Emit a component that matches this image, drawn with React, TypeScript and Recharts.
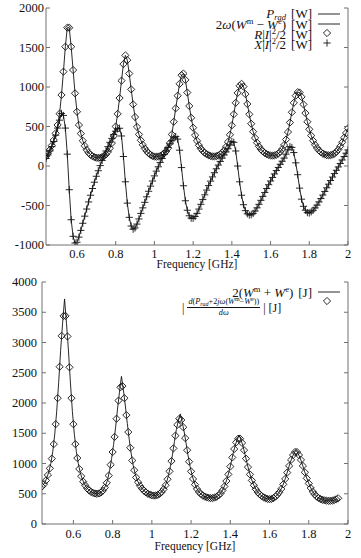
import React from 'react';
import { ComposedChart, Line, XAxis, YAxis } from 'recharts';

// frequency grid [GHz]
const freq = [
  0.44, 0.45, 0.46, 0.47, 0.48, 0.49, 0.5, 0.51, 0.52, 0.53,
  0.54, 0.55, 0.56, 0.57, 0.58, 0.59, 0.6, 0.61, 0.62, 0.63,
  0.64, 0.65, 0.66, 0.67, 0.68, 0.69, 0.7, 0.71, 0.72, 0.73,
  0.74, 0.75, 0.76, 0.77, 0.78, 0.79, 0.8, 0.81, 0.82, 0.83,
  0.84, 0.85, 0.86, 0.87, 0.88, 0.89, 0.9, 0.91, 0.92, 0.93,
  0.94, 0.95, 0.96, 0.97, 0.98, 0.99, 1.0, 1.01, 1.02, 1.03,
  1.04, 1.05, 1.06, 1.07, 1.08, 1.09, 1.1, 1.11, 1.12, 1.13,
  1.14, 1.15, 1.16, 1.17, 1.18, 1.19, 1.2, 1.21, 1.22, 1.23,
  1.24, 1.25, 1.26, 1.27, 1.28, 1.29, 1.3, 1.31, 1.32, 1.33,
  1.34, 1.35, 1.36, 1.37, 1.38, 1.39, 1.4, 1.41, 1.42, 1.43,
  1.44, 1.45, 1.46, 1.47, 1.48, 1.49, 1.5, 1.51, 1.52, 1.53,
  1.54, 1.55, 1.56, 1.57, 1.58, 1.59, 1.6, 1.61, 1.62, 1.63,
  1.64, 1.65, 1.66, 1.67, 1.68, 1.69, 1.7, 1.71, 1.72, 1.73,
  1.74, 1.75, 1.76, 1.77, 1.78, 1.79, 1.8, 1.81, 1.82, 1.83,
  1.84, 1.85, 1.86, 1.87, 1.88, 1.89, 1.9, 1.91, 1.92, 1.93,
  1.94, 1.95, 1.96, 1.97, 1.98, 1.99, 2.0,
];

// P_rad and R|I|^2/2 [W] (they sit on top of each other)
const radiatedPower = [
  120, 160, 205, 260, 329, 414, 519, 662, 899, 1194,
  1510, 1751, 1751, 1510, 1215, 920, 687, 519, 410, 320,
  255, 205, 168, 142, 124, 112, 105, 102, 104, 112,
  126, 148, 180, 225, 290, 380, 500, 660, 860, 1080,
  1290, 1400, 1340, 1170, 970, 780, 620, 495, 400, 325,
  268, 222, 188, 162, 142, 128, 120, 117, 120, 128,
  140, 158, 185, 225, 290, 400, 560, 730, 890, 1040,
  1150, 1170, 1090, 930, 760, 610, 485, 390, 318, 262,
  220, 190, 166, 149, 136, 127, 122, 121, 125, 133,
  147, 168, 198, 242, 305, 395, 515, 655, 800, 925,
  1015, 1040, 1005, 910, 785, 655, 535, 435, 355, 295,
  248, 212, 185, 165, 150, 140, 133, 131, 134, 142,
  157, 180, 215, 265, 335, 430, 550, 680, 800, 890,
  935, 930, 875, 780, 670, 560, 465, 385, 320, 268,
  228, 197, 174, 157, 145, 138, 135, 137, 144, 157,
  178, 208, 250, 300, 358, 418, 477,
];

// 2w(Wm - We) and X|I|^2/2 [W]
const reactivePower = [
  95, 140, 190, 245, 310, 390, 480, 580, 665, 640,
  480, 150, -300, -680, -890, -975, -965, -900, -815, -725,
  -635, -545, -455, -370, -285, -205, -130, -60, 5, 70,
  130, 190, 245, 300, 350, 400, 440, 470, 478, 380,
  120, -200, -470, -650, -760, -800, -785, -735, -670, -600,
  -530, -460, -390, -320, -255, -190, -125, -65, -10, 45,
  95, 145, 190, 235, 280, 320, 355, 372, 340, 200,
  -20, -250, -440, -560, -630, -660, -662, -640, -600, -545,
  -485, -425, -365, -305, -248, -192, -138, -85, -35, 12,
  58, 100, 140, 178, 218, 265, 308, 300, 190, 0,
  -200, -370, -490, -565, -605, -620, -618, -600, -570, -530,
  -485, -435, -385, -335, -285, -237, -190, -145, -100, -58,
  -18, 22, 60, 100, 150, 205, 244, 235, 170, 40,
  -110, -280, -420, -510, -560, -590, -595, -580, -560, -530,
  -495, -455, -412, -368, -322, -276, -230, -184, -140, -96,
  -54, -12, 32, 76, 120, 162, 203,
];

// 2(Wm + We) [J], sampled half way between the derivative points
const energyFreq = [
  0.445, 0.455, 0.465, 0.475, 0.485, 0.495, 0.505, 0.515, 0.525, 0.535,
  0.545, 0.555, 0.565, 0.575, 0.585, 0.595, 0.605, 0.615, 0.625, 0.635,
  0.645, 0.655, 0.665, 0.675, 0.685, 0.695, 0.705, 0.715, 0.725, 0.735,
  0.745, 0.755, 0.765, 0.775, 0.785, 0.795, 0.805, 0.815, 0.825, 0.835,
  0.845, 0.855, 0.865, 0.875, 0.885, 0.895, 0.905, 0.915, 0.925, 0.935,
  0.945, 0.955, 0.965, 0.975, 0.985, 0.995, 1.005, 1.015, 1.025, 1.035,
  1.045, 1.055, 1.065, 1.075, 1.085, 1.095, 1.105, 1.115, 1.125, 1.135,
  1.145, 1.155, 1.165, 1.175, 1.185, 1.195, 1.205, 1.215, 1.225, 1.235,
  1.245, 1.255, 1.265, 1.275, 1.285, 1.295, 1.305, 1.315, 1.325, 1.335,
  1.345, 1.355, 1.365, 1.375, 1.385, 1.395, 1.405, 1.415, 1.425, 1.435,
  1.445, 1.455, 1.465, 1.475, 1.485, 1.495, 1.505, 1.515, 1.525, 1.535,
  1.545, 1.555, 1.565, 1.575, 1.585, 1.595, 1.605, 1.615, 1.625, 1.635,
  1.645, 1.655, 1.665, 1.675, 1.685, 1.695, 1.705, 1.715, 1.725, 1.735,
  1.745, 1.755, 1.765, 1.775, 1.785, 1.795, 1.805, 1.815, 1.825, 1.835,
  1.845, 1.855, 1.865, 1.875, 1.885, 1.895, 1.905, 1.915, 1.925, 1.935,
  1.945,
];
const storedEnergy = [
  640, 690, 765, 865, 1000, 1200, 1485, 1865, 2340, 2870,
  3320, 3720, 3310, 2860, 2330, 1860, 1480, 1200, 1000, 850,
  745, 670, 615, 572, 542, 522, 510, 502, 502, 512,
  535, 575, 640, 740, 890, 1085, 1315, 1590, 1900, 2180,
  2440, 2220, 1950, 1660, 1390, 1155, 970, 830, 730, 660,
  608, 568, 536, 511, 492, 480, 472, 471, 477, 491,
  515, 552, 607, 690, 805, 955, 1145, 1360, 1560, 1710,
  1820, 1680, 1520, 1325, 1125, 950, 808, 698, 615, 555,
  512, 482, 461, 446, 436, 430, 429, 433, 443, 461,
  488, 530, 587, 665, 765, 885, 1025, 1175, 1300, 1395,
  1470, 1385, 1285, 1150, 1010, 880, 770, 680, 607, 550,
  507, 476, 451, 432, 420, 412, 411, 420, 440, 468,
  505, 552, 617, 700, 797, 905, 1010, 1100, 1170, 1220,
  1170, 1100, 1010, 907, 805, 712, 632, 565, 512, 472,
  442, 421, 406, 396, 389, 384, 383, 385, 391, 401,
  416,
];

// |d(P_rad + 2jw(Wm - We))/dw| [J]
const derivFreq = freq.slice(0, 152);
const derivEnergy = [
  620, 660, 720, 810, 920, 1080, 1320, 1650, 2080, 2600,
  3110, 3440, 3440, 3100, 2590, 2080, 1650, 1320, 1090, 910,
  790, 700, 640, 590, 555, 530, 515, 505, 500, 505,
  520, 550, 600, 680, 800, 980, 1190, 1440, 1740, 2040,
  2260, 2280, 2080, 1800, 1520, 1260, 1050, 890, 770, 690,
  630, 585, 550, 522, 500, 485, 475, 470, 472, 482,
  500, 530, 575, 640, 740, 870, 1040, 1250, 1460, 1640,
  1740, 1720, 1600, 1420, 1220, 1030, 870, 745, 650, 580,
  530, 495, 470, 452, 440, 432, 428, 430, 437, 450,
  472, 505, 555, 620, 710, 820, 950, 1100, 1240, 1350,
  1410, 1410, 1340, 1220, 1080, 940, 820, 720, 640, 575,
  525, 490, 462, 440, 425, 415, 410, 414, 428, 452,
  485, 525, 580, 655, 745, 850, 960, 1060, 1140, 1190,
  1190, 1140, 1060, 960, 855, 755, 670, 595, 535, 490,
  455, 430, 412, 400, 392, 386, 383, 383, 387, 395,
  408, 425,
];

const freqTicks = [0.6, 0.8, 1, 1.2, 1.4, 1.6, 1.8, 2];
const powerTicks = [-1000, -500, 0, 500, 1000, 1500, 2000];
const energyTicks = [0, 500, 1000, 1500, 2000, 2500, 3000, 3500, 4000];

const toRows = (xs: number[], ys: number[]) => xs.map((f, i) => ({ f, v: ys[i] }));

const powerRows = toRows(freq, radiatedPower);
const reactiveRows = toRows(freq, reactivePower);
const energyRows = toRows(energyFreq, storedEnergy);
const derivRows = toRows(derivFreq, derivEnergy);

const INK = '#111';
const FRAME = '#707070';
const SERIF = '"Liberation Serif", "DejaVu Serif", serif';
const TICK = 4;

type Box = { left: number; right: number; top: number; bottom: number };
// plot rectangles, in each chart's own coordinates
const TOP_BOX: Box = { left: 46, right: 348, top: 8, bottom: 245 };
const BOT_BOX: Box = { left: 42, right: 348, top: 14, bottom: 256 };

const Diamond = ({ cx, cy, r = 3.6 }: { cx?: number; cy?: number; r?: number }) =>
  cx == null || cy == null ? null : (
    <path
      d={`M${cx},${cy - r}L${cx + r},${cy}L${cx},${cy + r}L${cx - r},${cy}Z`}
      fill='none'
      stroke={INK}
      strokeWidth={0.9}
    />
  );

const Plus = ({ cx, cy, r = 3.6 }: { cx?: number; cy?: number; r?: number }) =>
  cx == null || cy == null ? null : (
    <path
      d={`M${cx - r},${cy}H${cx + r}M${cx},${cy - r}V${cy + r}`}
      fill='none'
      stroke={INK}
      strokeWidth={0.9}
    />
  );

const diamondDot = (p: any) => <Diamond key={`d${p.index}`} cx={p.cx} cy={p.cy} />;
const plusDot = (p: any) => <Plus key={`p${p.index}`} cx={p.cx} cy={p.cy} />;

// inward gnuplot-style ticks, optional label
const yTick = (box: Box, side: 'left' | 'right', labelRight?: number) => (p: any) => {
  const x0 = side === 'left' ? box.left : box.right;
  const x1 = side === 'left' ? x0 + TICK : x0 - TICK;
  return (
    <g>
      <line x1={x0} x2={x1} y1={p.y} y2={p.y} stroke={FRAME} />
      {labelRight !== undefined && (
        <text x={labelRight} y={p.y + 4} textAnchor='end' fontSize={12.5} fontFamily={SERIF} fill={INK}>
          {String(p.payload.value)}
        </text>
      )}
    </g>
  );
};

const xTick = (box: Box, side: 'top' | 'bottom', labelY?: number) => (p: any) => {
  const y0 = side === 'bottom' ? box.bottom : box.top;
  const y1 = side === 'bottom' ? y0 - TICK : y0 + TICK;
  return (
    <g>
      <line x1={p.x} x2={p.x} y1={y0} y2={y1} stroke={FRAME} />
      {labelY !== undefined && (
        <text x={p.x} y={labelY} textAnchor='middle' fontSize={12.5} fontFamily={SERIF} fill={INK}>
          {String(p.payload.value)}
        </text>
      )}
    </g>
  );
};

const axisLabel = (offset: number) => ({
  value: 'Frequency [GHz]',
  position: 'insideBottom' as const,
  offset,
  fontSize: 11.5,
  fontFamily: SERIF,
  fill: INK,
});

const PowerChart = () => (
  <ComposedChart width={361} height={278} margin={{ top: 8, right: 0, bottom: 0, left: 0 }}>
    <XAxis
      xAxisId='b'
      type='number'
      dataKey='f'
      domain={[0.44, 2]}
      ticks={freqTicks}
      interval={0}
      allowDataOverflow
      height={33}
      tickLine={false}
      tickSize={0}
      axisLine={{ stroke: FRAME }}
      tick={xTick(TOP_BOX, 'bottom', 258)}
      label={axisLabel(10)}
    />
    <XAxis
      xAxisId='t'
      orientation='top'
      type='number'
      domain={[0.44, 2]}
      ticks={freqTicks}
      interval={0}
      allowDataOverflow
      height={0}
      tickLine={false}
      tickSize={0}
      axisLine={{ stroke: FRAME }}
      tick={xTick(TOP_BOX, 'top')}
    />
    <YAxis
      yAxisId='l'
      type='number'
      domain={[-1000, 2000]}
      ticks={powerTicks}
      interval={0}
      allowDataOverflow
      width={46}
      tickLine={false}
      tickSize={0}
      axisLine={{ stroke: FRAME }}
      tick={yTick(TOP_BOX, 'left', 44)}
    />
    <YAxis
      yAxisId='r'
      orientation='right'
      type='number'
      domain={[-1000, 2000]}
      ticks={powerTicks}
      interval={0}
      allowDataOverflow
      width={13}
      tickLine={false}
      tickSize={0}
      axisLine={{ stroke: FRAME }}
      tick={yTick(TOP_BOX, 'right')}
    />
    <Line xAxisId='b' yAxisId='l' data={powerRows} dataKey='v' type='linear' stroke={INK} strokeWidth={0.9} dot={false} activeDot={false} isAnimationActive={false} />
    <Line xAxisId='b' yAxisId='l' data={reactiveRows} dataKey='v' type='linear' stroke={INK} strokeWidth={0.9} dot={false} activeDot={false} isAnimationActive={false} />
    <Line xAxisId='b' yAxisId='l' data={powerRows} dataKey='v' stroke='none' dot={diamondDot} activeDot={false} isAnimationActive={false} />
    <Line xAxisId='b' yAxisId='l' data={reactiveRows} dataKey='v' stroke='none' dot={plusDot} activeDot={false} isAnimationActive={false} />
  </ComposedChart>
);

const EnergyChart = () => (
  <ComposedChart width={361} height={290} margin={{ top: 14, right: 0, bottom: 0, left: 0 }}>
    <XAxis
      xAxisId='b'
      type='number'
      dataKey='f'
      domain={[0.44, 2]}
      ticks={freqTicks}
      interval={0}
      allowDataOverflow
      height={34}
      tickLine={false}
      tickSize={0}
      axisLine={{ stroke: FRAME }}
      tick={xTick(BOT_BOX, 'bottom', 270)}
      label={axisLabel(8)}
    />
    <XAxis
      xAxisId='t'
      orientation='top'
      type='number'
      domain={[0.44, 2]}
      ticks={freqTicks}
      interval={0}
      allowDataOverflow
      height={0}
      tickLine={false}
      tickSize={0}
      axisLine={{ stroke: FRAME }}
      tick={xTick(BOT_BOX, 'top')}
    />
    <YAxis
      yAxisId='l'
      type='number'
      domain={[0, 4000]}
      ticks={energyTicks}
      interval={0}
      allowDataOverflow
      width={42}
      tickLine={false}
      tickSize={0}
      axisLine={{ stroke: FRAME }}
      tick={yTick(BOT_BOX, 'left', 37)}
    />
    <YAxis
      yAxisId='r'
      orientation='right'
      type='number'
      domain={[0, 4000]}
      ticks={energyTicks}
      interval={0}
      allowDataOverflow
      width={13}
      tickLine={false}
      tickSize={0}
      axisLine={{ stroke: FRAME }}
      tick={yTick(BOT_BOX, 'right')}
    />
    <Line xAxisId='b' yAxisId='l' data={energyRows} dataKey='v' type='linear' stroke={INK} strokeWidth={0.9} dot={false} activeDot={false} isAnimationActive={false} />
    <Line xAxisId='b' yAxisId='l' data={derivRows} dataKey='v' stroke='none' dot={diamondDot} activeDot={false} isAnimationActive={false} />
  </ComposedChart>
);

// legend text is HTML so sub/superscripts and right alignment behave
const Sup = ({ children }: { children: React.ReactNode }) => (
  <span style={{ fontSize: 8.5, position: 'relative', top: -5, lineHeight: 0 }}>{children}</span>
);
const Sub = ({ children }: { children: React.ReactNode }) => (
  <span style={{ fontSize: 8.5, fontStyle: 'italic', position: 'relative', top: 2, lineHeight: 0 }}>{children}</span>
);
const I = ({ children }: { children: React.ReactNode }) => <i>{children}</i>;
const Unit = ({ children }: { children: React.ReactNode }) => (
  <span style={{ marginLeft: 5 }}>{children}</span>
);

const rowStyle = (top: number): React.CSSProperties => ({
  position: 'absolute',
  right: 49,
  top,
  fontFamily: SERIF,
  fontSize: 13,
  lineHeight: '9px',
  whiteSpace: 'nowrap',
  color: INK,
});

const LegendText = () => (
  <div style={{ position: 'absolute', left: 0, top: 0, width: 361, height: 558, pointerEvents: 'none' }}>
    <div style={rowStyle(9)}>
      <I>P</I><Sub>rad</Sub><Unit>[W]</Unit>
    </div>
    <div style={rowStyle(20)}>
      2<I>ω</I>(<I>W</I><Sup>m</Sup> − <I>W</I><Sup>e</Sup>)<Unit>[W]</Unit>
    </div>
    <div style={rowStyle(30)}>
      <I>R</I>|<I>I</I>|<Sup>2</Sup>/2<Unit>[W]</Unit>
    </div>
    <div style={rowStyle(40)}>
      <I>X</I>|<I>I</I>|<Sup>2</Sup>/2<Unit>[W]</Unit>
    </div>
    <div style={rowStyle(288)}>
      2(<I>W</I><Sup>m</Sup> + <I>W</I><Sup>e</Sup>)<Unit>[J]</Unit>
    </div>
    <div
      style={{
        position: 'absolute',
        left: 182,
        top: 298,
        display: 'flex',
        alignItems: 'center',
        fontFamily: SERIF,
        fontSize: 12,
        lineHeight: '12px',
        whiteSpace: 'nowrap',
        color: INK,
      }}
    >
      <span>|&nbsp;</span>
      <span style={{ display: 'inline-flex', flexDirection: 'column', alignItems: 'center', fontSize: 8.2, lineHeight: '8px' }}>
        <span style={{ borderBottom: `0.7px solid ${INK}`, padding: '0 1px 1px' }}>
          <I>d</I>(<I>P</I><span style={{ fontSize: 6, fontStyle: 'italic', position: 'relative', top: 1.5 }}>rad</span>+2<I>jω</I>(<I>W</I>
          <span style={{ fontSize: 6, position: 'relative', top: -3 }}>m</span>−<I>W</I>
          <span style={{ fontSize: 6, position: 'relative', top: -3 }}>e</span>))
        </span>
        <span style={{ paddingTop: 1 }}>
          <I>dω</I>
        </span>
      </span>
      <span>&nbsp;| [J]</span>
    </div>
  </div>
);

const LegendKeys = () => (
  <svg width={361} height={558} style={{ position: 'absolute', left: 0, top: 0, pointerEvents: 'none' }}>
    <line x1={318} x2={340} y1={14} y2={14} stroke={INK} strokeWidth={0.9} />
    <line x1={318} x2={340} y1={24} y2={24} stroke={INK} strokeWidth={0.9} />
    <Diamond cx={327} cy={33} />
    <Plus cx={327} cy={43} />
    <line x1={318} x2={340} y1={292} y2={292} stroke={INK} strokeWidth={0.9} />
    <Diamond cx={327} cy={301} />
  </svg>
);

export default function App() {
  return (
    <div style={{ position: 'absolute', left: 0, top: 0, width: 361, height: 558, background: '#fff' }}>
      <div style={{ position: 'absolute', left: 0, top: 0 }}>
        <PowerChart />
      </div>
      <div style={{ position: 'absolute', left: 0, top: 268 }}>
        <EnergyChart />
      </div>
      <LegendKeys />
      <LegendText />
    </div>
  );
}
